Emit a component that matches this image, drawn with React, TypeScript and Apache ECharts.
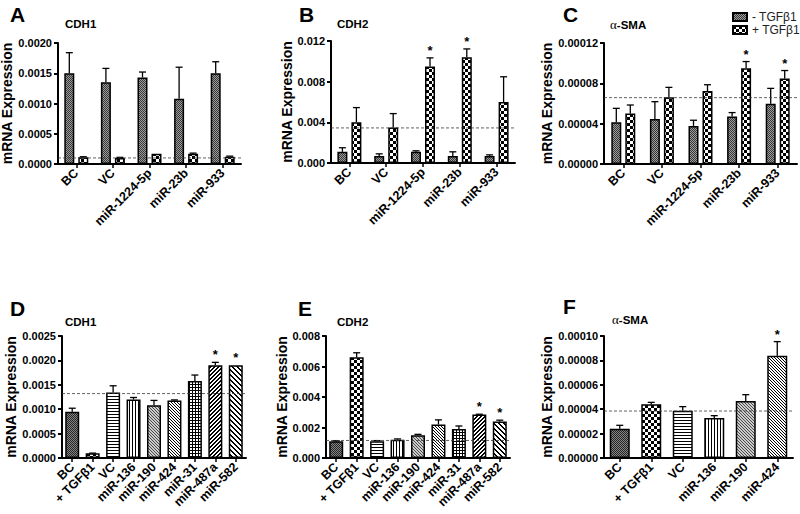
import React, { useEffect, useRef } from 'react';
import * as echarts from 'echarts';

const FONT = 'Liberation Sans, Arial, Helvetica, sans-serif';

// ---------- Top row (A, B, C) ----------
const catsTop = ['BC', 'VC', 'miR-1224-5p', 'miR-23b', 'miR-933'];
const seriesNames = ['- TGFβ1', '+ TGFβ1'];

// A: CDH1
const aMinus = [0.0015, 0.00135, 0.00143, 0.00108, 0.0015];
const aMinusErr = [0.00184, 0.00158, 0.00152, 0.0016, 0.00169];
const aPlus = [0.00011, 0.0001, 0.00017, 0.00017, 0.00012];
const aPlusErr = [0.00012, 0.00011, 0.00017, 0.00018, 0.00013];
const aRef = 0.0001;

// B: CDH2
const bMinus = [0.0011, 0.0007, 0.0011, 0.0007, 0.0007];
const bMinusErr = [0.0015, 0.0009, 0.0012, 0.0011, 0.0008];
const bPlus = [0.004, 0.0035, 0.0095, 0.0104, 0.006];
const bPlusErr = [0.00545, 0.00486, 0.01034, 0.01122, 0.00848];
const bPlusSig = [0, 0, 1, 1, 0];
const bRef = 0.00345;

// C: alpha-SMA
const cMinus = [0.0000414, 0.0000447, 0.0000378, 0.000047, 0.0000598];
const cMinusErr = [0.0000552, 0.0000618, 0.0000434, 0.000051, 0.000075];
const cPlus = [0.00005, 0.0000661, 0.0000723, 0.000095, 0.0000848];
const cPlusErr = [0.0000585, 0.000076, 0.0000786, 0.0001016, 0.0000927];
const cPlusSig = [0, 0, 0, 1, 1];
const cRef = 0.0000658;

// ---------- Bottom row (D, E, F) ----------
const catsDE = ['BC', '+ TGFβ1', 'VC', 'miR-136', 'miR-190', 'miR-424', 'miR-31', 'miR-487a', 'miR-582'];
const catsF = ['BC', '+ TGFβ1', 'VC', 'miR-136', 'miR-190', 'miR-424'];
const patternOrder = ['dark', 'checker', 'hlines', 'vlines', 'greyDiag', 'diagBack', 'grid', 'diagFwd', 'diagBackWide'];

// D: CDH1
const dVals = [0.00095, 0.000095, 0.00134, 0.0012, 0.00108, 0.00118, 0.00158, 0.0019, 0.0019];
const dErr = [0.00102, 0.0001, 0.00148, 0.00124, 0.00118, 0.00119, 0.0017, 0.00196, 0.0019];
const dSig = [0, 0, 0, 0, 0, 0, 0, 1, 1];
const dRef = 0.00132;

// E: CDH2
const eVals = [0.0011, 0.0066, 0.0011, 0.0012, 0.0015, 0.0022, 0.0019, 0.00285, 0.0024];
const eErr = [0.00113, 0.0069, 0.00114, 0.00125, 0.00155, 0.0025, 0.0021, 0.00287, 0.00248];
const eSig = [0, 0, 0, 0, 0, 0, 0, 1, 1];
const eRef = 0.00115;

// F: alpha-SMA
const fVals = [0.000024, 0.000044, 0.0000388, 0.0000328, 0.0000467, 0.0000839];
const fErr = [0.0000268, 0.0000456, 0.0000421, 0.0000347, 0.0000519, 0.0000954];
const fSig = [0, 0, 0, 0, 0, 1];
const fRef = 0.0000385;

// y-axis ranges: [max, interval, decimals]
const yA = [0.002, 0.0005, 4];
const yB = [0.012, 0.004, 3];
const yC = [0.00012, 0.00004, 5];
const yD = [0.0025, 0.0005, 4];
const yE = [0.008, 0.002, 3];
const yF = [0.0001, 0.00002, 5];

function pat(w: number, h: number, bg: string, fg: string, on: (x: number, y: number) => boolean) {
  const c = document.createElement('canvas');
  c.width = w;
  c.height = h;
  const ctx = c.getContext('2d')!;
  ctx.fillStyle = bg;
  ctx.fillRect(0, 0, w, h);
  ctx.fillStyle = fg;
  for (let y = 0; y < h; y++) for (let x = 0; x < w; x++) if (on(x, y)) ctx.fillRect(x, y, 1, 1);
  return { image: c.toDataURL(), repeat: 'repeat', imageWidth: w, imageHeight: h };
}

function buildPatterns() {
  return {
    grey: pat(2, 2, '#9c9c9c', '#383838', (x, y) => (x + y) % 2 === 0),
    dark: pat(2, 2, '#868686', '#242424', (x, y) => (x + y) % 2 === 0),
    checker: pat(6, 6, '#ffffff', '#000000', (x, y) => (Math.floor(x / 3) + Math.floor(y / 3)) % 2 === 0),
    hlines: pat(1, 3, '#ffffff', '#000000', (_x, y) => y === 0),
    vlines: pat(3, 1, '#ffffff', '#000000', (x) => x === 0),
    greyDiag: pat(3, 3, '#cccccc', '#4a4a4a', (x, y) => (x - y + 3) % 3 === 0),
    diagBack: pat(3, 3, '#ffffff', '#000000', (x, y) => (x - y + 3) % 3 === 0),
    grid: pat(3, 3, '#ffffff', '#000000', (x, y) => x === 0 || y === 0),
    diagFwd: pat(4, 4, '#ffffff', '#000000', (x, y) => (x + y) % 4 < 2),
    diagBackWide: pat(5, 5, '#ffffff', '#000000', (x, y) => (x - y + 5) % 5 < 2),
  } as Record<string, any>;
}

function errSeries(idx: number, vals: number[], errs: number[], sig: number[] | null, offset: number) {
  return {
    type: 'custom',
    xAxisIndex: idx,
    yAxisIndex: idx,
    z: 6,
    silent: true,
    data: vals.map((v, i) => [i, v, errs[i], sig ? sig[i] : 0]),
    encode: { x: 0, y: 1 },
    renderItem: (_params: any, api: any) => {
      const i = api.value(0);
      const v = api.value(1);
      const e = api.value(2);
      const s = api.value(3);
      const p0 = api.coord([i, v]);
      const p1 = api.coord([i, e]);
      const cx = p0[0] + offset;
      const children: any[] = [];
      if (e > v) {
        children.push({ type: 'line', shape: { x1: cx, y1: p0[1], x2: cx, y2: p1[1] }, style: { stroke: '#000', lineWidth: 1.3 } });
        children.push({ type: 'line', shape: { x1: cx - 3.5, y1: p1[1], x2: cx + 3.5, y2: p1[1] }, style: { stroke: '#000', lineWidth: 1.3 } });
      }
      if (s) {
        children.push({
          type: 'text',
          x: cx,
          y: p1[1] - 1,
          style: { text: '*', fontSize: 13, fontWeight: 'bold', fontFamily: FONT, align: 'center', verticalAlign: 'bottom', fill: '#000' },
        });
      }
      return { type: 'group', children };
    },
  };
}

function refLineSeries(idx: number, val: number) {
  return {
    type: 'custom',
    xAxisIndex: idx,
    yAxisIndex: idx,
    z: 7,
    silent: true,
    data: [[0, val]],
    encode: { x: 0, y: 1 },
    renderItem: (params: any, api: any) => {
      const y = api.coord([0, api.value(1)])[1];
      const cs = params.coordSys;
      return {
        type: 'line',
        shape: { x1: cs.x, y1: y, x2: cs.x + cs.width, y2: y },
        style: { stroke: '#3a3a3a', lineWidth: 0.8, lineDash: [3, 2] },
      };
    },
  };
}

const grids = [
  { left: 58, top: 43, width: 183, height: 121 },
  { left: 331, top: 41, width: 184, height: 122 },
  { left: 604, top: 43, width: 193, height: 121 },
  { left: 62, top: 336, width: 184, height: 122 },
  { left: 326, top: 336, width: 184, height: 122 },
  { left: 604, top: 336, width: 189, height: 122 },
];
const nameGaps = [32, 29, 34, 36, 28, 32];

function buildOption() {
  const P = buildPatterns();
  const yCfg = [yA, yB, yC, yD, yE, yF];
  const cats = [catsTop, catsTop, catsTop, catsDE, catsDE, catsF];

  const xAxis = cats.map((c, i) => ({
    type: 'category',
    gridIndex: i,
    data: c,
    axisLine: { show: true, lineStyle: { color: '#000', width: 2 } },
    axisTick: { show: true, alignWithLabel: true, length: 4, lineStyle: { color: '#000', width: 1.5 } },
    axisLabel: { rotate: 45, interval: 0, margin: 7, color: '#000', fontWeight: 'bold', fontSize: 12.5, fontFamily: FONT },
    splitLine: { show: false },
  }));

  const yAxis = yCfg.map((y, i) => ({
    type: 'value',
    gridIndex: i,
    min: 0,
    max: y[0],
    interval: y[1],
    name: 'mRNA Expression',
    nameLocation: 'middle',
    nameGap: nameGaps[i],
    nameTextStyle: { fontWeight: 'bold', fontSize: 14, color: '#000', fontFamily: FONT },
    axisLine: { show: true, lineStyle: { color: '#000', width: 2 } },
    axisTick: { show: true, length: 4, lineStyle: { color: '#000', width: 2 } },
    axisLabel: {
      margin: 6,
      color: '#000',
      fontWeight: 'bold',
      fontSize: 11,
      fontFamily: FONT,
      formatter: (v: number) => v.toFixed(y[2] as number),
    },
    splitLine: { show: false },
  }));

  const barStyle = (color: any) => ({ color, borderColor: '#000', borderWidth: 1.5 });
  const series: any[] = [];
  const topSets = [
    { minus: aMinus, minusErr: aMinusErr, plus: aPlus, plusErr: aPlusErr, sig: null as number[] | null, ref: aRef },
    { minus: bMinus, minusErr: bMinusErr, plus: bPlus, plusErr: bPlusErr, sig: bPlusSig, ref: bRef },
    { minus: cMinus, minusErr: cMinusErr, plus: cPlus, plusErr: cPlusErr, sig: cPlusSig, ref: cRef },
  ];
  topSets.forEach((s, i) => {
    series.push({
      type: 'bar',
      name: seriesNames[0],
      xAxisIndex: i,
      yAxisIndex: i,
      barWidth: 10,
      barGap: '40%',
      data: s.minus,
      itemStyle: barStyle(P.grey),
    });
    series.push({
      type: 'bar',
      name: seriesNames[1],
      xAxisIndex: i,
      yAxisIndex: i,
      barWidth: 10,
      barGap: '40%',
      data: s.plus,
      itemStyle: barStyle(P.checker),
    });
    series.push(errSeries(i, s.minus, s.minusErr, null, -7));
    series.push(errSeries(i, s.plus, s.plusErr, s.sig, 7));
    series.push(refLineSeries(i, s.ref));
  });

  const botSets = [
    { vals: dVals, err: dErr, sig: dSig, ref: dRef, bw: 14 },
    { vals: eVals, err: eErr, sig: eSig, ref: eRef, bw: 14 },
    { vals: fVals, err: fErr, sig: fSig, ref: fRef, bw: 20 },
  ];
  botSets.forEach((s, k) => {
    const i = k + 3;
    series.push({
      type: 'bar',
      name: 'panel' + i,
      xAxisIndex: i,
      yAxisIndex: i,
      barWidth: s.bw,
      data: s.vals.map((v, j) => ({ value: v, itemStyle: barStyle(P[patternOrder[j]]) })),
      itemStyle: { borderColor: '#000', borderWidth: 1.5 },
    });
    series.push(errSeries(i, s.vals, s.err, s.sig, 0));
    series.push(refLineSeries(i, s.ref));
  });

  const letter = (t: string, x: number, y: number) => ({
    type: 'text',
    left: x,
    top: y,
    style: { text: t, fontSize: 21, fontWeight: 'bold', fontFamily: FONT, fill: '#000' },
  });
  const title = (t: string, x: number, y: number) => ({
    type: 'text',
    left: x,
    top: y,
    style: { text: t, fontSize: 11.5, fontWeight: 'bold', fontFamily: FONT, fill: '#000' },
  });
  const smaTitle = (x: number, y: number) => ({
    type: 'text',
    left: x,
    top: y,
    style: {
      text: '{a|α}{b|-SMA}',
      rich: {
        a: { fontFamily: 'Liberation Serif, Times New Roman, serif', fontSize: 13, fill: '#000' },
        b: { fontFamily: FONT, fontWeight: 'bold', fontSize: 11.5, fill: '#000' },
      },
    },
  });

  return {
    animation: false,
    backgroundColor: '#ffffff',
    textStyle: { fontFamily: FONT },
    legend: {
      data: seriesNames,
      orient: 'vertical',
      left: 727,
      top: 6,
      icon: 'rect',
      itemWidth: 14,
      itemHeight: 8,
      itemGap: 1,
      selectedMode: false,
      textStyle: { fontSize: 12, color: '#222', fontFamily: FONT, lineHeight: 12 },
    },
    grid: grids.map((g) => ({ ...g, containLabel: false, outerBoundsMode: 'none' })),
    xAxis,
    yAxis,
    series,
    graphic: [
      letter('A', 10, 4),
      letter('B', 299, 4),
      letter('C', 563, 4),
      letter('D', 10, 298),
      letter('E', 298, 298),
      letter('F', 563, 296),
      title('CDH1', 65, 18),
      title('CDH2', 337, 18),
      smaTitle(610, 18),
      title('CDH1', 65, 316),
      title('CDH2', 337, 316),
      smaTitle(612, 313),
    ],
  };
}

export default function App() {
  const ref = useRef<HTMLDivElement>(null);
  useEffect(() => {
    document.body.style.margin = '0';
    if (!ref.current) return;
    const chart = echarts.init(ref.current, null, { renderer: 'svg' });
    chart.setOption(buildOption() as any);
    return () => chart.dispose();
  }, []);
  return <div ref={ref} style={{ width: 800, height: 514 }} />;
}
